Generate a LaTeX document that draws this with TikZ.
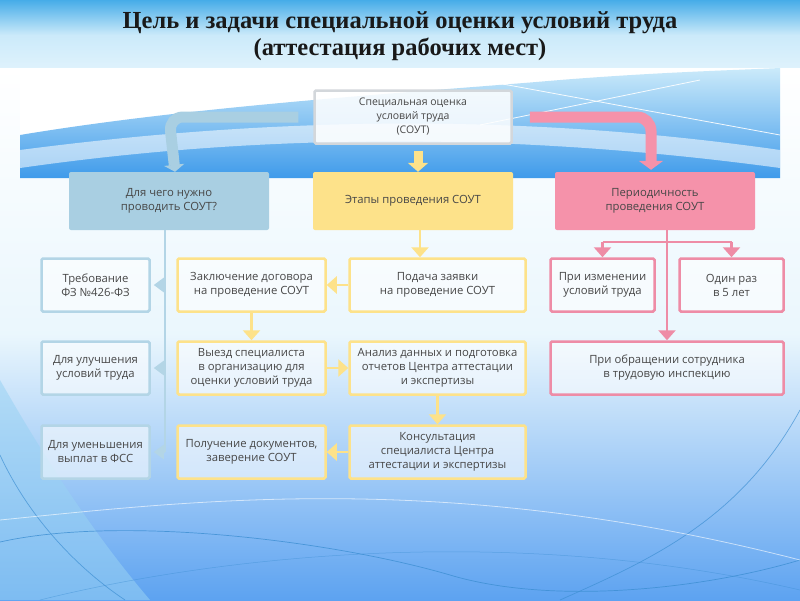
\documentclass[tikz,border=0pt]{standalone}
\usepackage{fontspec}
\setmainfont{Liberation Serif}
\newfontfamily\boxfnt{Open Sans}
\usetikzlibrary{arrows.meta}
\definecolor{cblue}{HTML}{A9CFE2}
\definecolor{cbluel}{HTML}{B3D5E6}
\definecolor{cyel}{HTML}{FDE28A}
\definecolor{cpink}{HTML}{F592AA}
\definecolor{cpinkb}{HTML}{EE8CA6}
\definecolor{ctxt}{HTML}{474747}
\definecolor{cgray}{HTML}{D3D7DB}
\definecolor{skyA}{HTML}{46ACE8}
\definecolor{skyB}{HTML}{CBEAFA}
\definecolor{skyC}{HTML}{6DBFEE}
\definecolor{waveC}{HTML}{3C8ED2}
\begin{document}
\begin{tikzpicture}[x=1pt,y=-1pt,
  txt/.style={align=center, text=ctxt, font=\boxfnt\fontsize{11.3}{14}\selectfont},
  boxbase/.style={txt, line width=2.5pt, rounded corners=1.5pt, inner sep=1pt, minimum height=53pt},
  topbox/.style={boxbase, draw=cgray, fill=white, fill opacity=0.85, text opacity=1, minimum width=197pt, font=\boxfnt\fontsize{10.5}{14}\selectfont},
  headbox/.style={txt, rounded corners=2pt, minimum width=200pt, minimum height=58pt},
  bbox/.style={boxbase, draw=cbluel, fill=white, fill opacity=0.55, text opacity=1, minimum width=108pt},
  ybox/.style={boxbase, draw=cyel, fill=white, fill opacity=0.55, text opacity=1},
  pbox/.style={boxbase, draw=cpinkb, fill=white, fill opacity=0.55, text opacity=1, minimum width=104pt},
  yarr/.style={draw=cyel, line width=2.5pt, -{Triangle[width=17pt,length=10pt]}},
  barr/.style={draw=cbluel, line width=2.5pt},
  parr/.style={draw=cpinkb, line width=2.5pt},
  ]
\useasboundingbox (0,0) rectangle (800,600);
% ---------- background ----------
\shade[top color=skyA, bottom color=skyB!60!white, middle color=skyB] (0,0) rectangle (800,70);
\shade[top color=white, bottom color=skyC!85!blue, middle color=skyB!40!white] (0,68) rectangle (800,600);
\fill[white] (20,68) rectangle (780,178);
\shade[top color=skyB, bottom color=skyA!90!blue] (20,178) -- (20,135) .. controls (200,105) and (420,92) .. (560,80) .. controls (660,72) and (740,70) .. (780,68) -- (780,178) -- cycle;
\fill[white, opacity=0.55] (20,150) .. controls (250,120) and (500,110) .. (780,150) -- (780,168) .. controls (500,130) and (250,135) .. (20,168) -- cycle;
\draw[white, line width=0.8pt, opacity=0.9] (470,78) -- (780,135);
\draw[white, line width=0.8pt, opacity=0.9] (480,125) -- (700,80);
\fill[skyC!70!white, opacity=0.55] (0,380) .. controls (40,450) and (90,530) .. (150,600) -- (0,600) -- cycle;
\draw[waveC, line width=0.7pt, opacity=0.8] (0,542) .. controls (120,515) and (330,540) .. (450,575) .. controls (550,605) and (700,590) .. (800,560);
\draw[waveC, line width=0.7pt, opacity=0.7] (0,455) .. controls (30,520) and (80,570) .. (125,600);
\draw[waveC, line width=0.7pt, opacity=0.7] (560,600) .. controls (650,560) and (740,520) .. (800,410);
\draw[white, line width=0.8pt, opacity=0.6] (0,520) .. controls (200,500) and (450,470) .. (800,560);
\draw[waveC, line width=0.5pt, opacity=0.5] (40,600) .. controls (200,560) and (500,520) .. (800,590);
% ---------- title ----------
\node[font=\bfseries\fontsize{24.5}{27}\selectfont, align=center, text=black!90] (title) at (400,36) {Цель и задачи специальной оценки условий труда\\(аттестация рабочих мест)};
% ---------- nodes ----------
\node[topbox] (top) at (413,117) {Специальная оценка\\условий труда\\(СОУТ)};
\node[headbox, fill=cblue] (hL) at (169,201) {Для чего нужно\\проводить СОУТ?};
\node[headbox, fill=cyel] (hM) at (413,201) {Этапы проведения СОУТ};
\node[headbox, fill=cpink] (hR) at (655,201) {Периодичность\\проведения СОУТ};
\node[bbox] (l1) at (95.5,285) {Требование\\ФЗ №426-ФЗ};
\node[bbox] (l2) at (95.5,368) {Для улучшения\\условий труда};
\node[bbox] (l3) at (95.5,452) {Для уменьшения\\выплат в ФСС};
\node[ybox, minimum width=148pt] (c1) at (251.5,285) {Заключение договора\\на проведение СОУТ};
\node[ybox, minimum width=148pt] (c2) at (251.5,368) {Выезд специалиста\\в организацию для\\оценки условий труда};
\node[ybox, minimum width=148pt] (c3) at (251.5,452) {Получение документов,\\заверение СОУТ};
\node[ybox, minimum width=176pt] (m1) at (437.5,285) {Подача заявки\\на проведение СОУТ};
\node[ybox, minimum width=176pt] (m2) at (437.5,368) {Анализ данных и подготовка\\отчетов Центра аттестации\\и экспертизы};
\node[ybox, minimum width=176pt] (m3) at (437.5,452) {Консультация\\специалиста Центра\\аттестации и экспертизы};
\node[pbox] (r1) at (602.5,285) {При изменении\\условий труда};
\node[pbox] (r2) at (731.5,285) {Один раз\\в 5 лет};
\node[pbox, minimum width=233pt] (r3) at (667,368) {При обращении сотрудника\\в трудовую инспекцию};
% ---------- connectors ----------
\draw[cblue, line width=11pt, rounded corners=14pt, -{Triangle[width=20pt,length=7pt]}] ([xshift=-15pt]top.west) -- (top.west -| hL.north) -- ([xshift=6pt]hL.north);
\draw[cpink, line width=11pt, rounded corners=14pt, -{Triangle[width=24pt,length=9pt]}] ([xshift=17pt]top.east) -- ([xshift=-4pt]top.east -| hR.north) -- ([xshift=-4pt,yshift=2pt]hR.north);
\draw[cyel, line width=9pt, -{Triangle[width=20pt,length=9pt]}] ([xshift=5pt,yshift=-6pt]top.south) -- ([xshift=5pt]hM.north);
\draw[yarr] ([xshift=7pt]hM.south) -- ([xshift=7pt]hM.south |- m1.north);
\draw[yarr] (m1.west) -- (c1.east);
\draw[yarr] (c1.south) -- (c2.north);
\draw[yarr] (c2.east) -- (m2.west);
\draw[yarr] (m2.south) -- (m3.north);
\draw[yarr] (m3.west) -- (c3.east);
% blue side line
\coordinate (bl) at ([xshift=-4pt]hL.south);
\draw[barr] (bl) -- (bl |- l3.east);
\draw[barr, -{Triangle[width=14pt,length=10pt]}] (bl |- l1.east) -- ([xshift=3pt]l1.east);
\draw[barr, -{Triangle[width=14pt,length=10pt]}] (bl |- l2.east) -- ([xshift=3pt]l2.east);
\draw[barr, -{Triangle[width=14pt,length=10pt]}] (bl |- l3.east) -- ([xshift=3pt]l3.east);
% pink branches
\coordinate (pj) at ([yshift=-12pt]hR.south -| r3.north);
\draw[parr, -{Triangle[width=17pt,length=10pt]}] (hR.south -| r3.north) -- (r3.north);
\draw[parr] (pj -| r1.north) -- (pj -| r2.north);
\draw[parr, -{Triangle[width=17pt,length=10pt]}] (pj -| r1.north) -- (r1.north);
\draw[parr, -{Triangle[width=17pt,length=10pt]}] (pj -| r2.north) -- (r2.north);
\end{tikzpicture}
\end{document}
